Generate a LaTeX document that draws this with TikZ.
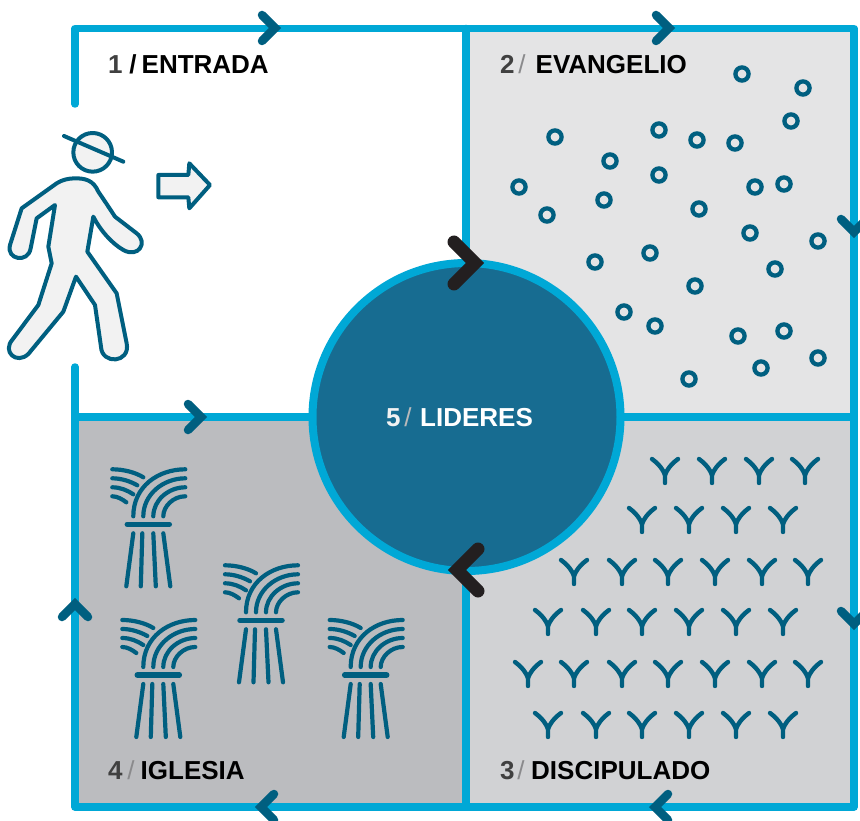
\documentclass[tikz,border=0pt]{standalone}
\usepackage{fontspec}
\setmainfont{Liberation Sans}
\definecolor{frameblue}{HTML}{00A8D6}
\definecolor{deepteal}{HTML}{005F80}
\definecolor{discteal}{HTML}{176C91}
\definecolor{inkblack}{HTML}{231F20}
\definecolor{panelb}{HTML}{E4E4E5}
\definecolor{panelc}{HTML}{D1D2D4}
\definecolor{paneld}{HTML}{BBBCBF}
\definecolor{figfill}{HTML}{F2F2F2}
\definecolor{numgray}{HTML}{404040}
\definecolor{slashgray}{HTML}{8A8A8C}
\tikzset{
  x=1pt,y=-1pt,
  framestroke/.style={draw=frameblue,line width=7.5pt,line cap=round,line join=round},
  chevronmark/.style={draw=deepteal,line width=8.5pt,line cap=round,line join=miter},
  bigchevron/.style={draw=inkblack,line width=13pt,line cap=round,line join=miter},
  figstroke/.style={draw=deepteal,line width=4pt,line join=round,fill=figfill},
  dotmark/.style={draw=deepteal,line width=4.3pt},
  strawline/.style={draw=deepteal,line width=4.2pt,line cap=round},
  forkline/.style={draw=deepteal,line width=4.4pt,line cap=round},
  caption/.style={anchor=base west,inner sep=0pt,outer sep=0pt,font=\fontsize{26}{30}\selectfont\bfseries,text=black},
  sheaf/.pic={
    \draw[strawline] (-15,-8) .. controls (-15,-38) and (10,-55) .. (37,-55);
    \draw[strawline] (-5,-8) .. controls (-5,-30) and (15,-46) .. (37,-46);
    \draw[strawline] (5,-8) .. controls (5,-24) and (20,-37) .. (37,-37);
    \draw[strawline] (15,-8) .. controls (15,-18) and (25,-28) .. (37,-28);
    \draw[strawline] (-36,-55) .. controls (-25,-55) and (-13,-52) .. (-5,-47);
    \draw[strawline] (-36,-46) .. controls (-27,-46) and (-18,-43) .. (-11,-39);
    \draw[strawline] (-36,-37) .. controls (-28,-37) and (-21,-34) .. (-15,-30);
    \draw[strawline] (-36,-28) .. controls (-31,-28) and (-26,-25) .. (-22,-22);
    \draw[strawline,line width=5.5pt] (-21,0) -- (21,0);
    \draw[strawline] (-15,9) -- (-22,62);
    \draw[strawline] (-6,9) -- (-7.5,62);
    \draw[strawline] (5,9) -- (7.5,62);
    \draw[strawline] (15,9) -- (22,62);
  },
  forkmark/.pic={
    \draw[forkline] (-13,1) .. controls (-9,4) and (-3,9) .. (0,17) -- (0,25);
    \draw[forkline] (13,1) .. controls (9,4) and (3,9) .. (0,17);
  }
}
\begin{document}
\begin{tikzpicture}
\useasboundingbox (0,0) rectangle (860,821);
\clip (0,0) rectangle (860,821);
% corners
\coordinate (tl) at (75,28.5);
\coordinate (tm) at (466,28.5);
\coordinate (tr) at (854,28.5);
\coordinate (ml) at (75,417);
\coordinate (mm) at (466,417);
\coordinate (mr) at (854,417);
\coordinate (bl) at (75,807);
\coordinate (bm) at (466,807);
\coordinate (br) at (854,807);
\coordinate (gapa) at (75,104);
\coordinate (gapb) at (75,367);
% panels
\fill[panelb] (tm) rectangle (mr);
\fill[panelc] (mm) rectangle (br);
\fill[paneld] (ml) rectangle (bm);
% frame
\draw[framestroke] (gapa) -- (tl) -- (tr) -- (br) -- (bl) -- (gapb);
\draw[framestroke] (ml) -- (mr);
\draw[framestroke] (tm) -- (bm);
% central disc
\node[circle,draw=frameblue,fill=discteal,line width=8pt,minimum size=308pt,inner sep=0pt] (disc) at (466.5,417) {};
% dots
\foreach \p/\q in {742/74,803/88,791/121,555/137,659/130,697/140,735/143,610/161,659/175,755/187,784/184,519/187,604/200,547/215,699/209,750/233,818/241,650/253,595/262,775/269,695/286,624/312,655/326,738/336,784/331,761/368,818/358,689/379}
  \draw[dotmark] (\p,\q) circle (6.6pt);
% forks
\foreach \yy/\xs in {458/{665,712,759,805},507/{642,689,736,783},559/{574,622,668,715,762,808},609/{548,596,642,689,736,783},661/{528,574,622,668,715,762,808},712/{548,596,642,689,736,783}}
  \foreach \xx in \xs
    \pic at (\xx,\yy) {forkmark};
% sheaves
\pic at (148.3,524.3) {sheaf};
\pic at (261,620.3) {sheaf};
\pic at (158.3,675) {sheaf};
\pic at (365.7,675) {sheaf};
% chevrons on frame
\draw[chevronmark] (262,15) -- (275,28) -- (262,41);
\draw[chevronmark] (656,15) -- (669,28) -- (656,41);
\draw[chevronmark] (841,219) -- (854,232) -- (867,219);
\draw[chevronmark] (841,611) -- (854,624) -- (867,611);
\draw[chevronmark] (668,794) -- (655,807) -- (668,820);
\draw[chevronmark] (274,794) -- (261,807) -- (274,820);
\draw[chevronmark] (62,617) -- (75,604) -- (88,617);
\draw[chevronmark] (188,404) -- (201,417) -- (188,430);
% black chevrons
\draw[bigchevron] (454,242) -- (475,263) -- (454,284);
\draw[bigchevron] (478,549) -- (457,570) -- (478,591);
% walking figure
\begin{scope}[scale=1/3]
\draw[figstroke] (320,612) -- (345,650) -- (410,700) .. controls (445,728) and (415,775) .. (370,750)
  .. controls (335,730) and (300,690) .. (280,650) -- (262,755) -- (350,880) -- (380,1030)
  .. controls (392,1090) and (305,1095) .. (303,1040) -- (285,915) -- (228,830) -- (190,935) -- (85,1062)
  .. controls (50,1095) and (5,1055) .. (38,1018) -- (115,915) -- (155,790) -- (145,740) -- (165,615) -- (110,655) -- (92,745)
  .. controls (85,790) and (18,780) .. (30,735) -- (65,625) -- (170,550)
  .. controls (185,540) and (205,535) .. (225,535) .. controls (255,535) and (280,540) .. (295,575) -- cycle;
\draw[figstroke] (278,457) circle (58pt);
\draw[draw=deepteal,line width=4pt,line cap=round] (192,408) -- (370,485);
\draw[figstroke] (475,525) -- (565,525) -- (568,490) -- (630,555) -- (568,625) -- (565,592) -- (475,592) -- cycle;
\end{scope}
% labels
\node[caption] (lab1) at (108,74) {{\color{numgray}1}\hspace{7pt}{/}\hspace{5pt}ENTRADA};
\node[caption] (lab2) at (500,74) {{\color{numgray}2}\hspace{4pt}{\mdseries\color{slashgray}/}\hspace{10pt}EVANGELIO};
\node[caption] (lab3) at (500,779) {{\color{numgray}3}\hspace{3pt}{\mdseries\color{slashgray}/}\hspace{6.5pt}DISCIPULADO};
\node[caption] (lab4) at (108,779) {{\color{numgray}4}\hspace{5pt}{\mdseries\color{slashgray}/}\hspace{6pt}IGLESIA};
\node[caption,text=white] (lab5) at (386,426) {{\color{figfill}5}\hspace{4pt}{\mdseries\color{slashgray!60!white}/}\hspace{8.5pt}LIDERES};
\end{tikzpicture}
\end{document}
